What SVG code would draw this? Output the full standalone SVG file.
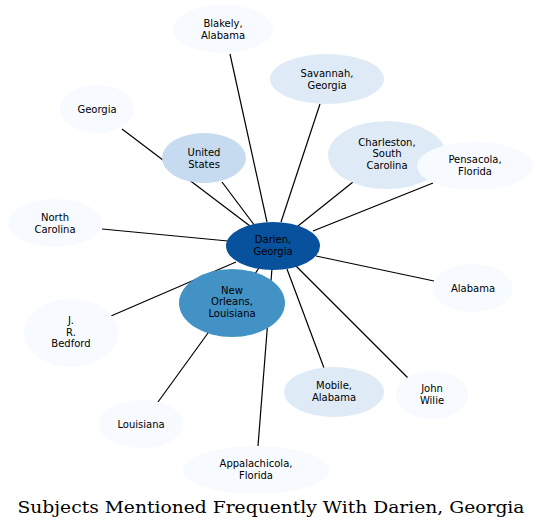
<svg xmlns="http://www.w3.org/2000/svg" width="541" height="531" viewBox="0 0 541 531">
<style>
.e line{stroke:#000;stroke-width:1.2}
.n text{font-family:"DejaVu Sans",sans-serif;font-size:10px;text-anchor:middle;fill:#000}
.c0{fill:#f7fbff}.c1{fill:#deebf7}.c2{fill:#c6dbef}.c3{fill:#4292c6}.c4{fill:#08519c}
.t{font-family:"DejaVu Serif",serif;font-size:17px;text-anchor:middle;fill:#000}
</style>
<rect width="541" height="531" fill="#fff"/>
<g id="edges" class="e">
<line x1="230" y1="54" x2="267" y2="222"/>
<line x1="320" y1="104" x2="281" y2="222"/>
<line x1="122" y1="129" x2="250" y2="226"/>
<line x1="222" y1="182" x2="255" y2="226"/>
<line x1="102" y1="229" x2="228" y2="241"/>
<line x1="353" y1="182" x2="298" y2="226"/>
<line x1="433" y1="183" x2="313" y2="231"/>
<line x1="434" y1="281" x2="316" y2="256"/>
<line x1="410" y1="380" x2="296" y2="266"/>
<line x1="324" y1="368" x2="287" y2="269"/>
<line x1="272" y1="268" x2="258" y2="446"/>
<line x1="208" y1="333" x2="158" y2="402"/>
<line x1="111" y1="316" x2="236" y2="262"/>
<line x1="259" y1="268" x2="252" y2="278"/>
</g>
<g id="blakely" class="n"><ellipse class="c0" cx="223" cy="29" rx="50" ry="24"/><text x="223" y="27">Blakely,</text><text x="223" y="38.5">Alabama</text></g>
<g id="savannah" class="n"><ellipse class="c1" cx="327" cy="79" rx="57" ry="25"/><text x="327" y="77">Savannah,</text><text x="327" y="88.5">Georgia</text></g>
<g id="georgia" class="n"><ellipse class="c0" cx="97" cy="109" rx="37" ry="24"/><text x="97" y="112.5">Georgia</text></g>
<g id="united_states" class="n"><ellipse class="c2" cx="204" cy="158" rx="42" ry="25"/><text x="204" y="156">United</text><text x="204" y="167.5">States</text></g>
<g id="charleston" class="n"><ellipse class="c1" cx="387" cy="155" rx="59" ry="34"/><text x="387" y="145.5">Charleston,</text><text x="387" y="157">South</text><text x="387" y="168.5">Carolina</text></g>
<g id="pensacola" class="n"><ellipse class="c0" cx="475" cy="166" rx="58" ry="24"/><text x="475" y="163">Pensacola,</text><text x="475" y="174.5">Florida</text></g>
<g id="north_carolina" class="n"><ellipse class="c0" cx="55" cy="223" rx="47" ry="24"/><text x="55" y="221">North</text><text x="55" y="232.5">Carolina</text></g>
<g id="darien" class="n"><ellipse class="c4" cx="273" cy="246" rx="47" ry="24"/><text x="273" y="243">Darien,</text><text x="273" y="254.5">Georgia</text></g>
<g id="alabama" class="n"><ellipse class="c0" cx="473" cy="288" rx="40" ry="24"/><text x="473" y="291.5">Alabama</text></g>
<g id="new_orleans" class="n"><ellipse class="c3" cx="232" cy="303" rx="53" ry="34"/><text x="232" y="293.5">New</text><text x="232" y="305">Orleans,</text><text x="232" y="316.5">Louisiana</text></g>
<g id="jr_bedford" class="n"><ellipse class="c0" cx="71" cy="333" rx="47" ry="34"/><text x="71" y="324">J.</text><text x="71" y="335.5">R.</text><text x="71" y="347">Bedford</text></g>
<g id="louisiana" class="n"><ellipse class="c0" cx="141" cy="424" rx="42" ry="24"/><text x="141" y="427.5">Louisiana</text></g>
<g id="mobile" class="n"><ellipse class="c1" cx="334" cy="392" rx="50" ry="25"/><text x="334" y="389">Mobile,</text><text x="334" y="400.5">Alabama</text></g>
<g id="john_wilie" class="n"><ellipse class="c0" cx="432" cy="395" rx="36" ry="24"/><text x="432" y="392">John</text><text x="432" y="403.5">Wilie</text></g>
<g id="appalachicola" class="n"><ellipse class="c0" cx="256" cy="470" rx="73" ry="24"/><text x="256" y="467">Appalachicola,</text><text x="256" y="478.5">Florida</text></g>
<text class="t" x="271" y="513" textLength="507" lengthAdjust="spacingAndGlyphs">Subjects Mentioned Frequently With Darien, Georgia</text>
</svg>
